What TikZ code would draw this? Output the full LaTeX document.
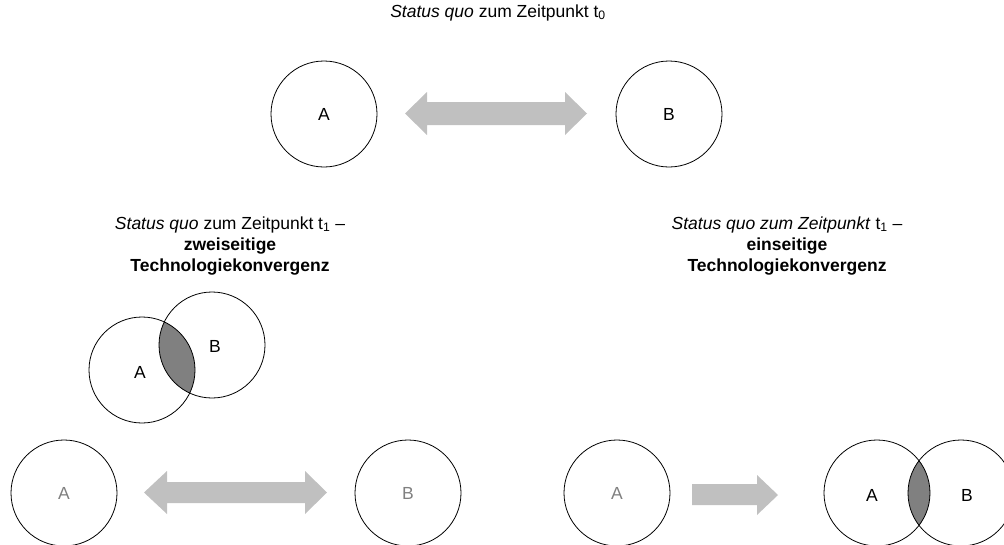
\documentclass[tikz,border=0pt]{standalone}
\usepackage{fontspec}
\setmainfont{Liberation Sans}
\definecolor{arrowgray}{HTML}{C0C0C0}
\definecolor{lensgray}{HTML}{808080}
\definecolor{labelgray}{HTML}{808080}
\begin{document}
\begin{tikzpicture}[x=1pt,y=-1pt,
  every node/.style={font=\fontsize{17.5}{21}\selectfont},
  circ/.style={circle,draw=black,line width=0.8pt,minimum size=106pt,inner sep=0pt},
  txt/.style={anchor=base,inner sep=0pt},
  blockarrow/.style={fill=arrowgray,draw=none},
  lens/.style={fill=lensgray}]
\useasboundingbox (0,0) rectangle (1004,544);

% title
\node[txt] (title) at (498,17) {\textit{Status quo} zum Zeitpunkt t\textsubscript{0}};

% top row
\node[circ] (tA) at (324,114) {A};
\node[circ] (tB) at (669,114) {B};
\fill[blockarrow] (405,113.5) -- (427,92) -- (427,102) -- (565,102) -- (565,92)
  -- (587,113.5) -- (565,135) -- (565,125) -- (427,125) -- (427,135) -- cycle;

% middle left heading
\node[txt] (mlh1) at (230,229) {\textit{Status quo} zum Zeitpunkt t\textsubscript{1} –};
\node[txt] (mlh2) at (230,250) {\textbf{zweiseitige}};
\node[txt] (mlh3) at (230,271) {\textbf{Technologiekonvergenz}};

% middle right heading
\node[txt] (mrh1) at (787,229) {\textit{Status quo zum Zeitpunkt} t\textsubscript{1} –};
\node[txt] (mrh2) at (787,250) {\textbf{einseitige}};
\node[txt] (mrh3) at (787,271) {\textbf{Technologiekonvergenz}};

% middle left venn
\begin{scope}
  \clip (142,370) circle (53);
  \fill[lens] (212,345) circle (53);
\end{scope}
\node[circ] (mA) at (142,370) {};
\node[circ] (mB) at (212,345) {};
\node (mAl) at (140,372) {A};
\node (mBl) at (215,346) {B};

% bottom left
\node[circ,text=labelgray] (bA) at (64,493) {A};
\node[circ,text=labelgray] (bB) at (408,493) {B};
\fill[blockarrow] (144,492.5) -- (167,471) -- (167,482) -- (305,482) -- (305,471)
  -- (327,492.5) -- (305,514) -- (305,503) -- (167,503) -- (167,514) -- cycle;

% bottom right
\node[circ,text=labelgray] (brA) at (617,493) {A};
\fill[blockarrow] (692,484) -- (757,484) -- (757,475) -- (778,495) -- (757,515)
  -- (757,505) -- (692,505) -- cycle;
\begin{scope}
  \clip (877,493) circle (53);
  \fill[lens] (961,493) circle (53);
\end{scope}
\node[circ] (vA) at (877,493) {};
\node[circ] (vB) at (961,493) {};
\node (vAl) at (872,495) {A};
\node (vBl) at (967,495) {B};
\end{tikzpicture}
\end{document}
